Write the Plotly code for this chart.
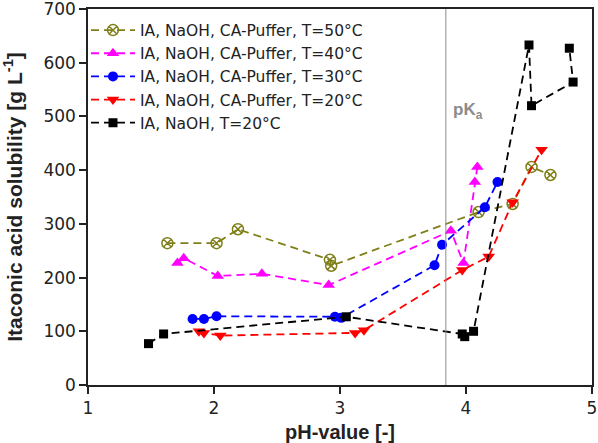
import plotly.graph_objects as go

# Data
ph_50 = [1.63, 2.02, 2.19, 2.92, 2.93, 4.10, 4.37, 4.52, 4.67]
sol_50 = [264, 264, 290, 233, 222, 322, 337, 406, 391]

ph_40 = [1.71, 1.76, 2.03, 2.38, 2.91, 3.88, 3.98, 4.07, 4.09]
sol_40 = [227, 236, 203, 207, 186, 287, 227, 378, 406]

ph_30 = [1.83, 1.92, 2.02, 2.96, 3.01, 3.75, 3.81, 4.15, 4.25]
sol_30 = [123, 123, 128, 127, 125, 223, 261, 331, 378]

ph_20 = [1.88, 1.92, 2.05, 3.12, 3.19, 3.97, 4.18, 4.37, 4.60]
sol_20 = [100, 97, 92, 97, 102, 214, 239, 340, 438]

ph_naoh = [1.48, 1.60, 3.05, 3.97, 3.99, 4.06, 4.50, 4.52, 4.85, 4.82]
sol_naoh = [77, 95, 127, 95, 90, 100, 633, 520, 564, 627]

names = [
    "IA, NaOH, CA-Puffer, T=50°C",
    "IA, NaOH, CA-Puffer, T=40°C",
    "IA, NaOH, CA-Puffer, T=30°C",
    "IA, NaOH, CA-Puffer, T=20°C",
    "IA, NaOH, T=20°C",
]
pka = 3.84

FONT = "Liberation Sans, Arial, sans-serif"
WIDE = "DejaVu Sans, Liberation Sans, sans-serif"

series = [
    (ph_50, sol_50, "#80801a", "circle-x-open", 11),
    (ph_40, sol_40, "#ff00ff", "triangle-up", 11),
    (ph_30, sol_30, "#0000ff", "circle", 10),
    (ph_20, sol_20, "#ff0000", "triangle-down", 11),
    (ph_naoh, sol_naoh, "#000000", "square", 9),
]

fig = go.Figure()
for (x, y, c, sym, sz), n in zip(series, names):
    fig.add_trace(go.Scatter(
        x=x, y=y, name=n, mode="lines+markers",
        line=dict(color=c, width=1.8, dash="8px,5px"),
        marker=dict(symbol=sym, size=sz, color=c,
                    line=dict(color=c, width=1.5 if sym.endswith("open") else 0)),
    ))

fig.add_shape(type="line", x0=pka, x1=pka, y0=0, y1=1, xref="x", yref="paper",
              line=dict(color="#8c8c8c", width=1))
fig.add_annotation(x=pka + 0.04, y=510, xref="x", yref="y", xanchor="left",
                   text="<b>pK<sub>a</sub></b>", showarrow=False,
                   font=dict(family=FONT, size=17, color="#8c8c8c"))

axis_common = dict(
    showline=True, linecolor="#222", linewidth=1.5, mirror=True,
    ticks="outside", ticklen=7, tickwidth=1.5, tickcolor="#222",
    showgrid=False, zeroline=False, automargin=False,
    ticklabeloverflow="allow",
    tickfont=dict(family=WIDE, size=17, color="#222"),
)
fig.update_xaxes(range=[1, 5], dtick=1,
                 title=dict(text="<b>pH-value [-]</b>", standoff=10,
                            font=dict(family=FONT, size=20, color="#222")),
                 **axis_common)
fig.update_yaxes(range=[0, 700], dtick=100,
                 title=dict(text="<b>Itaconic acid solubility [g L<sup>-1</sup>]</b>", standoff=24,
                            font=dict(family=FONT, size=21, color="#222")),
                 **axis_common)

fig.update_layout(
    width=598, height=443,
    margin=dict(l=88, r=6, t=9, b=58),
    paper_bgcolor="white", plot_bgcolor="white",
    showlegend=True,
    legend=dict(x=-0.004, y=0.988, xanchor="left", yanchor="top",
                bgcolor="rgba(0,0,0,0)", traceorder="normal",
                font=dict(family=WIDE, size=15.5, color="#222"),
                itemwidth=44),
    font=dict(family=FONT),
)

fig.write_html("out.html", config={"displayModeBar": False},
               post_script="document.body.style.margin='0';")
